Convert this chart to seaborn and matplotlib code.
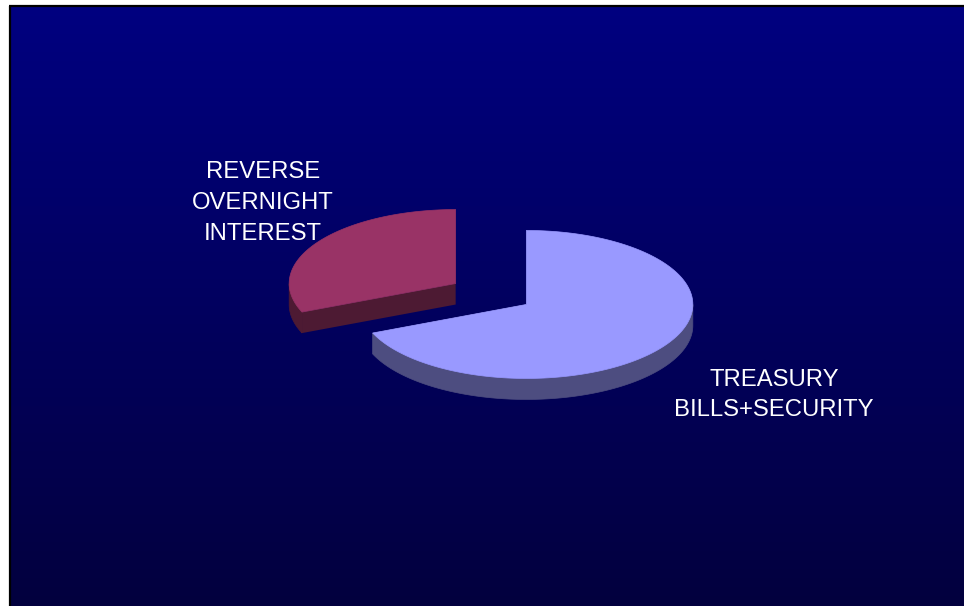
import numpy as np
import matplotlib
matplotlib.use("Agg")
import matplotlib.pyplot as plt
from matplotlib.patches import Polygon
import seaborn as sns

# Portfolio split shown as an exploded 3-D pie
labels = ["TREASURY\nBILLS+SECURITY", "REVERSE\nOVERNIGHT\nINTEREST"]
values = [68.7, 31.3]
top_colors = ["#9999FF", "#993366"]

sns.set_theme(style="white")
plt.rcParams["font.family"] = ["Liberation Sans", "DejaVu Sans"]

W, H = 964, 606
fig = plt.figure(figsize=(W / 100, H / 100), dpi=100, facecolor="white")
ax = fig.add_axes([0, 0, 1, 1])
ax.axis("off")

# ---- navy gradient panel with a black frame on the left and top ----
left, top, right, bottom = 10, 6, W, H
t = np.linspace(0, 1, 400)[:, None, None]
c_top = np.array([0, 0, 128]) / 255
c_bot = np.array([3, 0, 62]) / 255
grad = c_top + (c_bot - c_top) * t
ax.imshow(grad, extent=(left, right, bottom, top), aspect="auto",
          interpolation="bilinear", zorder=0)
ax.plot([left - 0.5, left - 0.5], [H, top - 0.5], color="black", lw=1.6,
        solid_capstyle="butt", zorder=1)
ax.plot([left - 1, W], [top - 0.5, top - 0.5], color="black", lw=1.6,
        solid_capstyle="butt", zorder=1)

# ---- 3-D pie geometry ----
cx, cy = 491, 294          # pie centre (screen px)
rx, ry = 166.5, 74         # ellipse radii of the top face
depth = 21                 # thickness of the disc
explode = 0.255            # radial offset of every slice, in radii
start_angle = 90           # first slice starts at 12 o'clock, clockwise


def shade(hex_color, k=0.5):
    rgb = np.array(matplotlib.colors.to_rgb(hex_color))
    return tuple(rgb * k)


fracs = np.array(values, dtype=float) / np.sum(values)
slices = []
cum = 0.0
for lab, f, col in zip(labels, fracs, top_colors):
    a_start = start_angle - cum * 360
    a_end = a_start - f * 360
    cum += f
    mid = np.radians((a_start + a_end) / 2)
    ox = cx + explode * rx * np.cos(mid)
    oy = cy - explode * ry * np.sin(mid)
    slices.append(dict(a0=a_end, a1=a_start, ox=ox, oy=oy, color=col))


def rim(s, ang_deg, dz=0.0):
    a = np.radians(ang_deg)
    return np.column_stack([s["ox"] + rx * np.cos(a),
                            s["oy"] - ry * np.sin(a) + dz])


z = 2
for s in sorted(slices, key=lambda d: d["oy"]):
    side = shade(s["color"], 0.5)
    ctr = np.array([s["ox"], s["oy"]])
    # radial faces
    for a in (s["a0"], s["a1"]):
        p = rim(s, [a])[0]
        face = np.array([ctr, p, p + [0, depth], ctr + [0, depth]])
        ax.add_patch(Polygon(face, closed=True, fc=side, ec="none", zorder=z))
    # curved outer band, front half only
    ts = np.linspace(s["a0"], s["a1"], 600)
    front = np.sin(np.radians(ts)) <= 0
    idx = np.flatnonzero(front)
    if idx.size:
        groups = np.split(idx, np.flatnonzero(np.diff(idx) > 1) + 1)
        for g in groups:
            upper = rim(s, ts[g])
            lower = rim(s, ts[g][::-1], depth)
            ax.add_patch(Polygon(np.vstack([upper, lower]), closed=True,
                                 fc=side, ec=side, lw=0.5, zorder=z))
    # top face
    arc = rim(s, ts)
    ax.add_patch(Polygon(np.vstack([ctr, arc]), closed=True,
                         fc=s["color"], ec=s["color"], lw=0.5, zorder=z + 1))
    z += 2

# ---- category labels ----
label_pos = [(774, 395), (263, 203)]
for lab, (x, y) in zip(labels, label_pos):
    ax.text(x, y, lab, color="white", fontsize=17.2, ha="center",
            va="center", linespacing=1.52, zorder=20)

ax.set_xlim(0, W)
ax.set_ylim(H, 0)
fig.savefig("out.png", dpi=100, facecolor="white")
